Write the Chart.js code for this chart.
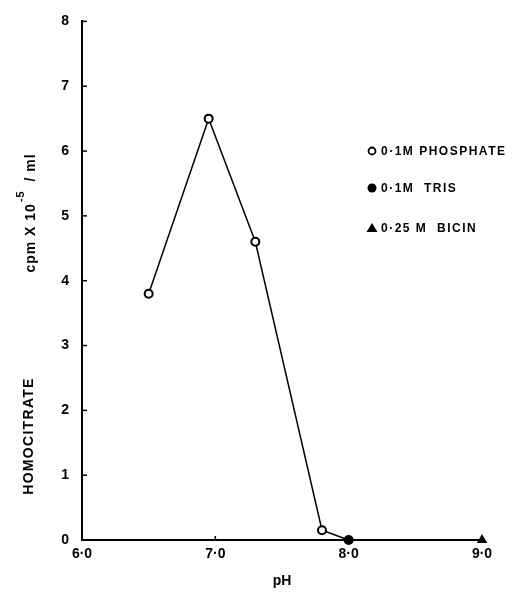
<!DOCTYPE html>
<html>
<head>
<meta charset="utf-8">
<script src="https://cdn.jsdelivr.net/npm/chart.js@4.4.1/dist/chart.umd.min.js"></script>
<style>
  html, body { margin: 0; padding: 0; background: #fff; }
  #wrap { width: 518px; height: 595px; }
</style>
</head>
<body>
<div id="wrap"><canvas id="phChart" width="518" height="595"></canvas></div>
<script>
// data
const phosphatePh = [6.5, 6.95, 7.3, 7.8];
const phosphateVals = [3.8, 6.5, 4.6, 0.15];
const trisPh = [8.0];
const trisVals = [0];
const bicinPh = [9.0];
const bicinVals = [0];
const legendLabels = ['0·1M PHOSPHATE', '0·1M  TRIS', '0·25 M  BICIN'];
const xTicks = [6, 7, 8, 9];
const yTicks = [0, 1, 2, 3, 4, 5, 6, 7, 8];

const toPoints = (xs, ys) => xs.map((x, i) => ({ x: x, y: ys[i] }));
const FONT = '"Liberation Sans", Arial, sans-serif';

// the connecting line runs through the phosphate points down to the tris point
const curve = toPoints(phosphatePh.concat(trisPh), phosphateVals.concat(trisVals));

// small inward ticks, y-axis title in two pieces and the in-plot key
const extras = {
    id: 'extras',
    afterDraw(chart) {
        const c = chart.ctx;
        const xs = chart.scales.x, ys = chart.scales.y;
        c.save();
        c.strokeStyle = '#000';
        c.lineWidth = 1.5;
        yTicks.forEach(v => {
            const py = ys.getPixelForValue(v);
            c.beginPath(); c.moveTo(xs.left, py); c.lineTo(xs.left + 5, py); c.stroke();
        });
        xTicks.forEach(v => {
            const px = xs.getPixelForValue(v);
            c.beginPath(); c.moveTo(px, ys.bottom); c.lineTo(px, ys.bottom - 4); c.stroke();
        });

        // y title
        c.fillStyle = '#000';
        c.textBaseline = 'middle';
        c.textAlign = 'center';
        c.save();
        c.translate(29, 436);
        c.rotate(-Math.PI / 2);
        c.font = 'bold 14px ' + FONT;
        c.letterSpacing = '1.3px';
        c.fillText('HOMOCITRATE', 0, 0);
        c.restore();

        c.save();
        c.translate(31, 213);
        c.rotate(-Math.PI / 2);
        c.textAlign = 'left';
        c.letterSpacing = '1px';
        const a = 'cpm X 10', b = '  / ml';
        c.font = 'bold 14px ' + FONT;
        const wa = c.measureText(a).width;
        c.font = 'bold 11px ' + FONT;
        const ws = c.measureText('-5').width;
        c.font = 'bold 14px ' + FONT;
        const wb = c.measureText(b).width;
        let x0 = -(wa + ws + wb) / 2;
        c.fillText(a, x0, 0);
        c.font = 'bold 11px ' + FONT;
        c.fillText('-5', x0 + wa + 1, -10);
        c.font = 'bold 14px ' + FONT;
        c.fillText(b, x0 + wa + ws, 0);
        c.restore();

        // key
        const kx = 372, ky = [151, 188, 228];
        c.font = 'bold 12px ' + FONT;
        c.letterSpacing = '1.5px';
        c.textAlign = 'left';
        legendLabels.forEach((t, i) => {
            const y = ky[i];
            c.beginPath();
            if (i === 0) {
                c.arc(kx, y, 3.5, 0, Math.PI * 2);
                c.fillStyle = '#fff'; c.fill();
                c.lineWidth = 1.8; c.stroke();
            } else if (i === 1) {
                c.arc(kx, y, 4.5, 0, Math.PI * 2);
                c.fillStyle = '#000'; c.fill();
            } else {
                c.moveTo(kx, y - 5); c.lineTo(kx + 5.5, y + 4); c.lineTo(kx - 5.5, y + 4); c.closePath();
                c.fillStyle = '#000'; c.fill();
            }
            c.fillStyle = '#000';
            c.fillText(t, kx + 9, y + 1);
        });
        c.restore();
    }
};

new Chart(document.getElementById('phChart'), {
    type: 'scatter',
    data: {
        datasets: [
            {
                label: 'line',
                data: curve,
                showLine: true,
                borderColor: '#000',
                borderWidth: 1.5,
                pointRadius: 0,
                clip: false,
                order: 3
            },
            {
                label: legendLabels[0],
                data: toPoints(phosphatePh, phosphateVals),
                pointStyle: 'circle',
                pointRadius: 4,
                pointBorderWidth: 2,
                pointBorderColor: '#000',
                pointBackgroundColor: '#fff',
                clip: false,
                order: 1
            },
            {
                label: legendLabels[1],
                data: toPoints(trisPh, trisVals),
                pointStyle: 'circle',
                pointRadius: 5,
                pointBorderWidth: 0,
                pointBackgroundColor: '#000',
                clip: false,
                order: 1
            },
            {
                label: legendLabels[2],
                data: toPoints(bicinPh, bicinVals),
                pointStyle: 'triangle',
                pointRadius: 6,
                pointBorderWidth: 0,
                pointBackgroundColor: '#000',
                clip: false,
                order: 1
            }
        ]
    },
    options: {
        responsive: false,
        animation: false,
        layout: { padding: { top: 20, right: 36, left: 0, bottom: 0 } },
        plugins: {
            legend: { display: false },
            tooltip: { enabled: false }
        },
        scales: {
            x: {
                type: 'linear',
                min: 6, max: 9,
                afterFit: s => { s.height = 55; },
                afterBuildTicks: s => { s.ticks = xTicks.map(v => ({ value: v })); },
                grid: { drawOnChartArea: false, drawTicks: false },
                border: { display: true, color: '#000', width: 2 },
                ticks: {
                    color: '#000',
                    padding: 6,
                    font: { family: FONT, size: 14, weight: 'bold' },
                    callback: v => v.toFixed(1).replace('.', '·')
                },
                title: {
                    display: true,
                    text: 'pH',
                    color: '#000',
                    padding: { top: 0, bottom: 5 },
                    font: { family: FONT, size: 14, weight: 'bold' }
                }
            },
            y: {
                min: 0, max: 8,
                afterFit: s => { s.width = 82; },
                afterBuildTicks: s => { s.ticks = yTicks.map(v => ({ value: v })); },
                grid: { drawOnChartArea: false, drawTicks: false },
                border: { display: true, color: '#000', width: 2 },
                ticks: {
                    color: '#000',
                    padding: 13,
                    font: { family: FONT, size: 14, weight: 'bold' }
                }
            }
        }
    },
    plugins: [extras]
});
</script>
</body>
</html>
